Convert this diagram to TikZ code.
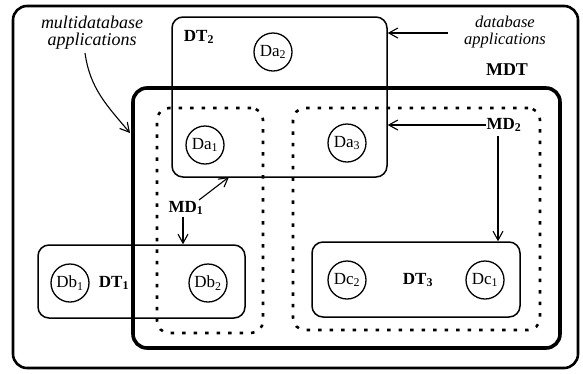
\documentclass[tikz,border=0pt]{standalone}
\usepackage{fontspec}
\setmainfont{Liberation Serif}
\usetikzlibrary{arrows.meta}
\newcommand\sbx[1]{\textsubscript{#1}}
\begin{document}
\begin{tikzpicture}[x=1pt,y=-1pt,
 outerbox/.style={draw, rounded corners=14pt, line width=2.6pt, inner sep=0pt},
 mdtbox/.style={draw, rounded corners=14pt, line width=3.6pt, inner sep=0pt},
 dtbox/.style={draw, rounded corners=11pt, line width=1.5pt, inner sep=0pt},
 dotbox/.style={draw, rounded corners=12pt, line width=2.6pt, dash pattern=on 3.5pt off 8pt, inner sep=0pt},
 db/.style={draw, circle, line width=1.3pt, minimum size=38pt, inner sep=0pt, font=\fontsize{17}{17}\selectfont},
 lbl/.style={font=\bfseries\fontsize{17}{17}\selectfont, inner sep=0pt},
 app/.style={font=\itshape\fontsize{16.5}{17}\selectfont, align=center, inner sep=0pt},
 arr/.style={-{Straight Barb[length=9pt,width=10pt]}, line width=1.1pt}]
\useasboundingbox (0,0) rectangle (583,373);
% boxes
\node[outerbox, minimum width=565pt, minimum height=362pt] (outer) at (295.5,187) {};
\node[mdtbox, minimum width=427pt, minimum height=260pt] (MDTbox) at (346.5,218) {};
\node[dtbox, minimum width=215pt, minimum height=160pt] (DT2) at (279.5,97) {};
\node[dotbox, minimum width=106pt, minimum height=225pt] (MD1box) at (210,220.5) {};
\node[dotbox, minimum width=247pt, minimum height=222pt] (MD2box) at (416.5,219) {};
\node[dtbox, minimum width=207pt, minimum height=73pt] (DT1) at (141.5,281.5) {};
\node[dtbox, minimum width=208pt, minimum height=75pt] (DT3) at (416,279.5) {};
% databases
\node[db] (Da2) at (273,52) {Da\sbx{2}};
\node[db] (Da1) at (205,145) {Da\sbx{1}};
\node[db] (Da3) at (347,143) {Da\sbx{3}};
\node[db] (Db1) at (70,283) {Db\sbx{1}};
\node[db] (Db2) at (208,283) {Db\sbx{2}};
\node[db] (Dc2) at (347,280) {Dc\sbx{2}};
\node[db] (Dc1) at (485,280) {Dc\sbx{1}};
% labels
\node[lbl] (lDT2) at (199,37) {DT\sbx{2}};
\node[lbl] (lDT1) at (114,283) {DT\sbx{1}};
\node[lbl] (lDT3) at (418,280) {DT\sbx{3}};
\node[lbl, font=\bfseries\fontsize{18}{18}\selectfont] (lMDT) at (507,70) {MDT};
\node[lbl] (MD2) at (504,125) {MD\sbx{2}};
\node[lbl] (MD1) at (186,208) {MD\sbx{1}};
\node[app, font=\itshape\fontsize{18}{17}\selectfont] (mdbapp) at (92,33) {multidatabase\\applications};
\node[app] (dbapp) at (505,32) {database\\applications};
% arrows
\coordinate (dbs) at (448,33);
\draw[arr] (dbs) -- (dbs -| DT2.east);
\draw[arr] (MD2.west) -- (MD2.west -| DT2.east);
\coordinate (m2d) at (498,136);
\draw[arr] (m2d) -- (m2d |- DT3.north);
\coordinate (m1u) at (199,200);
\coordinate (m1t) at (229,177);
\draw[arr] (m1u) -- (m1t);
\coordinate (m1d) at (183,217);
\draw[arr] (m1d) -- (m1d |- DT1.north);
\coordinate (mas) at (85,53);
\coordinate (mae) at (130,133);
\draw[arr] (mas) to[out=-82,in=130] (mae);
\end{tikzpicture}
\end{document}
